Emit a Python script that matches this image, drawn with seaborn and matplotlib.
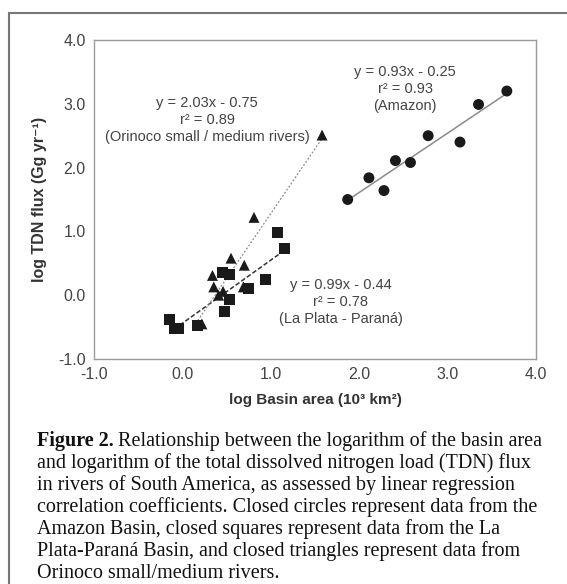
import numpy as np
import pandas as pd
import matplotlib
matplotlib.use("Agg")
import matplotlib.pyplot as plt
import matplotlib.ticker as mtick
from matplotlib.patches import Rectangle
import seaborn as sns

# -- Data ------------------------------------------------------
amazon_x = [1.87, 2.11, 2.28, 2.41, 2.58, 2.78, 3.14, 3.35, 3.67]
amazon_y = [1.50, 1.84, 1.64, 2.11, 2.08, 2.50, 2.40, 2.99, 3.20]

plata_x = [-0.15, -0.09, -0.04, 0.17, 0.45, 0.53, 0.48, 0.53, 0.75, 0.94, 1.08, 1.16]
plata_y = [-0.38, -0.52, -0.52, -0.48, 0.36, 0.32, -0.26, -0.07, 0.10, 0.24, 0.98, 0.73]

orinoco_x = [0.22, 0.34, 0.355, 0.41, 0.46, 0.55, 0.70, 0.69, 0.81, 1.58]
orinoco_y = [-0.45, 0.31, 0.13, 0.00, 0.06, 0.58, 0.47, 0.13, 1.22, 2.51]

# regression lines: slope, intercept, x range
fits = {
    "Amazon":  (0.93, -0.25, 1.87, 3.67),
    "La Plata": (0.99, -0.44, -0.03, 1.16),
    "Orinoco": (2.03, -0.75, 0.15, 1.58),
}

annotations = [
    (2.52, 3.23, "y = 0.93x - 0.25\nr\u00b2 = 0.93\n(Amazon)"),
    (0.28, 2.75, "y = 2.03x - 0.75\nr\u00b2 = 0.89\n(Orinoco small / medium rivers)"),
    (1.79, -0.11, "y = 0.99x - 0.44\nr\u00b2 = 0.78\n(La Plata - Paran\u00e1)"),
]

caption_lead = "Figure 2."
caption_first = "Relationship between the logarithm of the basin area"
caption_lines = [
    "and logarithm of the total dissolved nitrogen load (TDN) flux",
    "in rivers of South America, as assessed by linear regression",
    "correlation coefficients. Closed circles represent data from the",
    "Amazon Basin, closed squares represent data from the La",
    "Plata-Paran\u00e1 Basin, and closed triangles represent data from",
    "Orinoco small/medium rivers.",
]

# -- Build tidy frame -------------------------------------------
df = pd.concat([
    pd.DataFrame({"x": amazon_x, "y": amazon_y, "basin": "Amazon"}),
    pd.DataFrame({"x": plata_x, "y": plata_y, "basin": "La Plata"}),
    pd.DataFrame({"x": orinoco_x, "y": orinoco_y, "basin": "Orinoco"}),
], ignore_index=True)

sns.set_style("white")
plt.rcParams["font.family"] = ["Liberation Sans", "DejaVu Sans"]

W, H = 567, 584
fig = plt.figure(figsize=(W / 100, H / 100), dpi=100)
ax = fig.add_axes([94 / W, 1 - 359 / H, (536 - 94) / W, (359 - 40) / H])

# regression lines
line_styles = {
    "Amazon":  dict(color="#8a8a8a", linestyle="-", linewidth=1.1),
    "La Plata": dict(color="#333333", linestyle=(0, (3, 1.5)), linewidth=1.1),
    "Orinoco": dict(color="#8a8a8a", linestyle=(0, (1.5, 1.5)), linewidth=0.9),
}
for name, (m, b, x0, x1) in fits.items():
    xs = np.array([x0, x1])
    sns.lineplot(x=xs, y=m * xs + b, ax=ax, **line_styles[name])

sns.scatterplot(
    data=df, x="x", y="y", style="basin",
    markers={"Amazon": "o", "La Plata": "s", "Orinoco": "^"},
    color="#1a1a1a", s=62, edgecolor="none", legend=False, ax=ax, zorder=3,
)

for xa, ya, txt in annotations:
    ax.text(xa, ya, txt, ha="center", va="center", fontsize=10.5,
            color="#444444", linespacing=1.25)

ax.set_xlim(-1, 4)
ax.set_ylim(-1, 4)
ax.xaxis.set_major_locator(mtick.MultipleLocator(1))
ax.yaxis.set_major_locator(mtick.MultipleLocator(1))
ax.xaxis.set_minor_locator(mtick.MultipleLocator(0.5))
ax.yaxis.set_minor_locator(mtick.MultipleLocator(0.5))
ax.xaxis.set_major_formatter(mtick.FormatStrFormatter("%.1f"))
ax.yaxis.set_major_formatter(mtick.FormatStrFormatter("%.1f"))
ax.tick_params(which="both", direction="in", color="#888888", width=0.8,
               labelsize=11.5, labelcolor="#444444", pad=6)
ax.tick_params(which="both", length=4)
for sp in ax.spines.values():
    sp.set_color("#9a9a9a")
    sp.set_linewidth(1.0)

ax.set_xlabel("log Basin area (10\u00b3 km\u00b2)", fontsize=11, fontweight="bold",
              color="#333333", labelpad=8)
ax.set_ylabel("log TDN flux (Gg yr\u207b\u00b9)", fontsize=11.5, fontweight="bold",
              color="#333333", labelpad=8)

# outer frame
fig.patches.append(Rectangle((9 / W, -0.05), 1.2, 1 - 13 / H + 0.05,
                             transform=fig.transFigure, fill=False,
                             edgecolor="#777777", linewidth=1.5))

# caption
cap_font = ["Liberation Serif", "DejaVu Serif"]
cap_size = 14.5
cx = 37 / W
y0 = 1 - 441 / H
step = 22.0 / H
lead = fig.text(cx, y0, caption_lead, fontsize=cap_size, fontweight="bold",
                family=cap_font, va="center", ha="left", color="#111111")
fig.canvas.draw()
bb = lead.get_window_extent()
fig.text(bb.x1 / W + 4 / W, y0, caption_first, fontsize=cap_size,
         family=cap_font, va="center", ha="left", color="#111111")
for i, line in enumerate(caption_lines, start=1):
    fig.text(cx, y0 - i * step, line, fontsize=cap_size, family=cap_font,
             va="center", ha="left", color="#111111")

fig.savefig("out.png", dpi=100, facecolor="white")
